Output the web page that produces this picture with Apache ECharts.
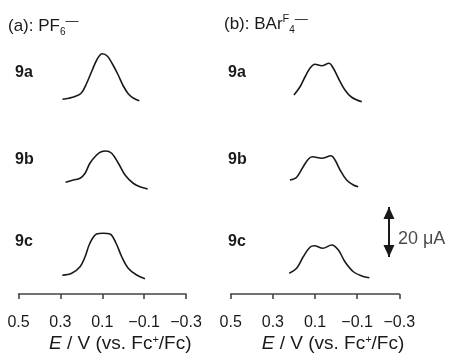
<!DOCTYPE html>
<html><head><meta charset="utf-8">
<script src="https://cdn.jsdelivr.net/npm/echarts/dist/echarts.min.js"></script>
<style>html,body{margin:0;padding:0;background:#fff}#c{width:450px;height:356px}</style>
</head><body><div id="c"></div>
<script>
// ---- data (E in V vs Fc+/Fc, current in µA) ----
const xTicks = [0.5, 0.3, 0.1, -0.1, -0.3];
const traceLabels = ['9a', '9b', '9c'];
const scaleBarUA = 20;

// Panel (a): PF6-
const a9a_E = [0.29, 0.26, 0.23, 0.20, 0.175, 0.15, 0.125, 0.10, 0.075, 0.05, 0.025, 0.0, -0.025, -0.05, -0.077];
const a9a_I = [1.1, 1.5, 2.2, 3.6, 7.4, 12.3, 17.0, 19.3, 18.3, 15.0, 11.0, 6.5, 3.2, 1.5, 0.5];
const a9b_E = [0.275, 0.238, 0.206, 0.182, 0.159, 0.127, 0.105, 0.085, 0.055, 0.023, -0.009, -0.048, -0.080, -0.117];
const a9b_I = [3.1, 4.0, 4.7, 6.7, 10.7, 14.0, 15.3, 15.6, 14.7, 10.7, 6.0, 2.7, 1.3, 0.4];
const a9c_E = [0.291, 0.246, 0.206, 0.182, 0.159, 0.127, 0.095, 0.063, 0.034, 0.007, -0.024, -0.064, -0.104];
const a9c_I = [1.9, 2.7, 5.3, 9.3, 14.7, 18.4, 18.7, 18.4, 14.7, 9.3, 4.7, 2.0, 0.5];

// Panel (b): BArF4-
const b9a_E = [0.200, 0.171, 0.147, 0.124, 0.100, 0.068, 0.034, 0.013, -0.011, -0.042, -0.074, -0.122];
const b9a_I = [2.8, 6.1, 10.1, 13.5, 15.1, 14.5, 15.5, 13.5, 9.5, 4.8, 1.9, 0.1];
const b9b_E = [0.219, 0.187, 0.156, 0.132, 0.113, 0.068, 0.024, 0.005, -0.019, -0.050, -0.082, -0.105];
const b9b_I = [4.0, 5.1, 9.3, 12.3, 13.3, 12.7, 13.7, 12.0, 8.0, 4.0, 2.0, 1.3];
const b9c_E = [0.222, 0.187, 0.156, 0.124, 0.103, 0.063, 0.021, -0.011, -0.042, -0.082, -0.122, -0.158];
const b9c_I = [2.7, 4.7, 9.3, 13.1, 13.7, 12.7, 14.0, 12.0, 7.3, 3.3, 1.6, 0.9];

const panels = [
  [[a9a_E, a9a_I], [a9b_E, a9b_I], [a9c_E, a9c_I]],
  [[b9a_E, b9a_I], [b9b_E, b9b_I], [b9c_E, b9c_I]]
];

// ---- layout ----
const FONT = '"Liberation Sans", Arial, Helvetica, sans-serif';
const INK = '#1a1a1a';
const shift = 0.3; // axis coordinate s = E + 0.3 so ticks start at a multiple of the interval
const panelLeft = [18.5, 230.7];
const panelWidth = [167.5, 168.6];
const traceBase = [102, 190, 280];   // pixel y of 0 µA for each trace row
const pxPerUA = 2.5;
const yMaxUA = 20;

function fmtTick(v) {
  const E = v - shift;
  for (const t of xTicks) {
    if (Math.abs(t - E) < 1e-6) return t < 0 ? '\u2212' + Math.abs(t).toFixed(1) : t.toFixed(1);
  }
  return '';
}

const grid = [], xAxis = [], yAxis = [], series = [];
let idx = 0;
panels.forEach((traces, p) => {
  traces.forEach(([E, I], k) => {
    grid.push({left: panelLeft[p], width: panelWidth[p], top: traceBase[k] - yMaxUA * pxPerUA, height: yMaxUA * pxPerUA});
    const bottom = k === traces.length - 1;
    xAxis.push({
      gridIndex: idx, type: 'value', min: 0, max: 0.8, interval: 0.2, inverse: true,
      show: bottom, offset: 14,
      axisLine: {show: true, onZero: false, lineStyle: {color: '#444', width: 1.6}},
      axisTick: {show: true, length: 5, lineStyle: {color: '#444', width: 1.6}},
      splitLine: {show: false},
      axisLabel: {show: true, margin: 21, fontSize: 16, color: INK, fontFamily: FONT, formatter: fmtTick},
      name: bottom ? '{i|E} / V (vs. Fc{sup|+}/Fc)' : '',
      nameLocation: 'middle', nameGap: 40,
      nameTextStyle: {fontSize: 19, color: INK, fontFamily: FONT, padding: [0, 0, 0, 36],
        rich: {i: {fontStyle: 'italic', fontSize: 19, color: INK, fontFamily: FONT},
               sup: {fontSize: 11, verticalAlign: 'top', color: INK, fontFamily: FONT}}}
    });
    yAxis.push({gridIndex: idx, type: 'value', min: 0, max: yMaxUA, show: false, splitLine: {show: false}});
    series.push({
      type: 'line', xAxisIndex: idx, yAxisIndex: idx, smooth: 0.35, showSymbol: false, clip: false,
      lineStyle: {color: INK, width: 1.6}, silent: true,
      data: E.map((e, j) => [e + shift, I[j]])
    });
    idx++;
  });
});

// scale bar (20 µA) drawn in the bottom-right trace's coordinates
const barE = -0.251, barLow = 9.2;
series.push({
  type: 'line', xAxisIndex: 5, yAxisIndex: 5, clip: false, silent: true,
  showSymbol: true, symbol: 'triangle', symbolSize: [11, 12],
  lineStyle: {color: INK, width: 2}, itemStyle: {color: INK},
  data: [
    {value: [barE + shift, barLow], symbolRotate: 180, symbolOffset: [0, -6]},
    {value: [barE + shift, barLow + scaleBarUA], symbolRotate: 0, symbolOffset: [0, 6]}
  ]
});
series.push({
  type: 'scatter', xAxisIndex: 5, yAxisIndex: 5, clip: false, silent: true,
  symbolSize: 0, data: [[barE + shift, barLow + scaleBarUA * 0.36]],
  label: {show: true, position: 'right', distance: 9, formatter: scaleBarUA + ' \u03bcA', fontSize: 18, color: INK, fontFamily: FONT}
});

const labelX = [15, 228];
const labelY = [73, 160, 242];
const graphic = [];
labelX.forEach(x => traceLabels.forEach((t, k) => graphic.push({
  type: 'text', x: x, y: labelY[k],
  style: {text: t, font: 'bold 16px ' + FONT, fill: INK, verticalAlign: 'middle'}
})));

const titleStyle = {fontSize: 17, fontWeight: 'normal', color: INK, fontFamily: FONT, lineHeight: 22,
  rich: {
    sub: {fontSize: 10, verticalAlign: 'bottom', lineHeight: 10, color: INK, fontFamily: FONT},
    sup: {fontSize: 13, verticalAlign: 'top', lineHeight: 13, color: INK, fontFamily: FONT},
    supF: {fontSize: 11, verticalAlign: 'top', lineHeight: 11, color: INK, fontFamily: FONT}
  }};

const chart = echarts.init(document.getElementById('c'), null, {renderer: 'canvas'});
chart.setOption({
  animation: false,
  backgroundColor: '#fff',
  title: [
    {text: '(a): PF{sub|6}{sup|\u2014}', left: 8, top: 15, padding: 0, textStyle: titleStyle},
    {text: '(b): BAr{supF|F}{sub|4}{sup|\u2014}', left: 224, top: 13, padding: 0, textStyle: titleStyle}
  ],
  grid, xAxis, yAxis, series, graphic
});
</script></body></html>
